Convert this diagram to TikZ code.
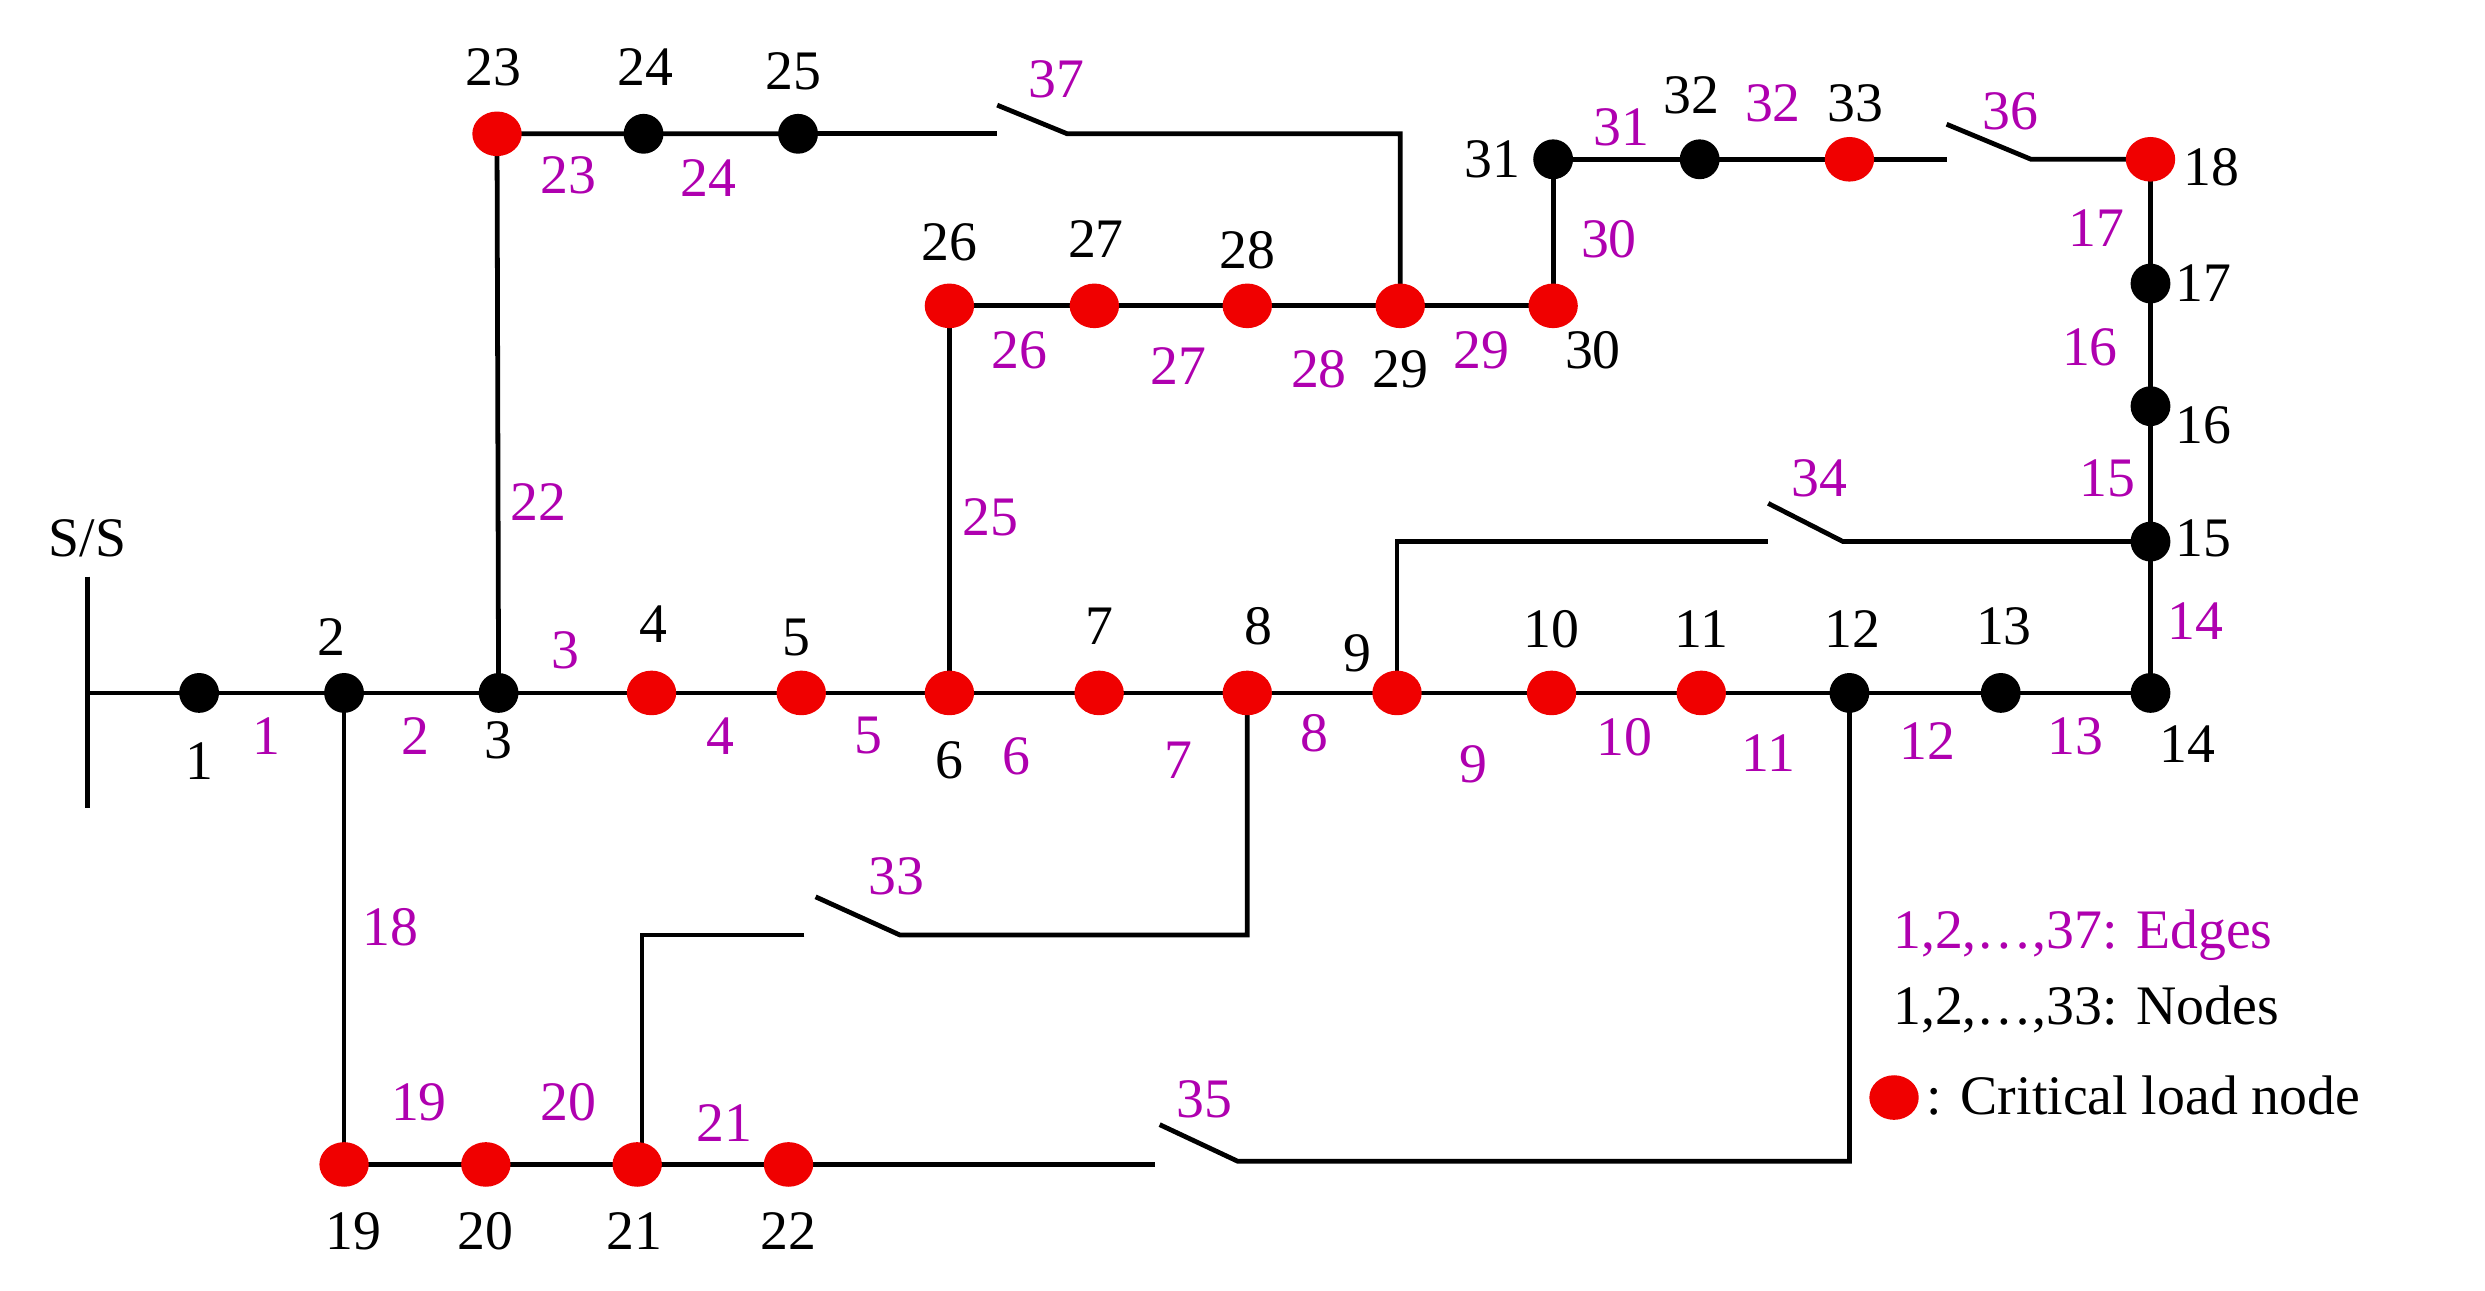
\documentclass[tikz,border=0pt]{standalone}
\usepackage{fontspec}
\setmainfont{Liberation Serif}
\usetikzlibrary{shapes.geometric}
\definecolor{mag}{RGB}{175,0,175}
\definecolor{cr}{RGB}{240,0,0}
\begin{document}
\begin{tikzpicture}[x=1pt,y=-1pt,line width=3pt,
 bn/.style={circle,fill=black,inner sep=0pt,minimum size=25pt},
 rn/.style={ellipse,fill=cr,inner sep=0pt,minimum width=31pt,minimum height=28pt},
 nl/.style={font=\fontsize{35}{40}\selectfont,text=black,inner sep=0pt},
 el/.style={font=\fontsize{35}{40}\selectfont,text=mag,inner sep=0pt}]
\useasboundingbox (0,0) rectangle (1560,810);
% nodes
\foreach \n/\x/\y in {1/125/435,2/216/435,3/313/435,4/409/435,5/503/435,6/596/435,7/690/435,8/783/435,9/877/435,10/974/435,11/1068/435,12/1161/435,13/1256/435,14/1350/435,15/1350/340,16/1350/255,17/1350/178,18/1350/100,19/216/731,20/305/731,21/400/731,22/495/731,23/312/84,24/404/84,25/501/84,26/596/192,27/687/192,28/783/192,29/879/192,30/975/192,31/975/100,32/1067/100,33/1161/100}
 {\coordinate (c\n) at (\x,\y);}
% bus
\coordinate (busT) at (55,362); \coordinate (busB) at (55,507); \coordinate (bus) at (55,435);
\draw (busT) -- (busB);
\draw (bus) -- (c1) -- (c2) -- (c3) -- (c4) -- (c5) -- (c6) -- (c7) -- (c8) -- (c9) -- (c10) -- (c11) -- (c12) -- (c13) -- (c14) -- (c15) -- (c16) -- (c17) -- (c18);
\draw (c2) -- (c19) -- (c20) -- (c21) -- (c22);
\draw (c3) -- (c23) -- (c24) -- (c25);
\draw (c6) -- (c26) -- (c27) -- (c28) -- (c29) -- (c30) -- (c31) -- (c32) -- (c33);
% switches
\coordinate (s37a) at (626,84); \coordinate (s37o) at (626,66); \coordinate (s37b) at (670,84); \coordinate (s37c) at (879,84);
\draw (c25) -- (s37a); \draw (s37o) -- (s37b) -- (s37c) -- (c29);
\coordinate (s36a) at (1222,100); \coordinate (s36o) at (1222,78); \coordinate (s36b) at (1275,100);
\draw (c33) -- (s36a); \draw (s36o) -- (s36b) -- (c18);
\coordinate (s34c) at (877,340); \coordinate (s34a) at (1110,340); \coordinate (s34o) at (1110,316); \coordinate (s34b) at (1157,340);
\draw (c9) -- (s34c) -- (s34a); \draw (s34o) -- (s34b) -- (c15);
\coordinate (s33c) at (783,587); \coordinate (s33b) at (565,587); \coordinate (s33o) at (512,563); \coordinate (s33a) at (505,587); \coordinate (s33d) at (403,587); \coordinate (s33e) at (403,731);
\draw (c8) -- (s33c) -- (s33b) -- (s33o); \draw (s33a) -- (s33d) -- (s33e);
\coordinate (s35a) at (725,731); \coordinate (s35o) at (728,706); \coordinate (s35b) at (777,729); \coordinate (s35c) at (1161,729);
\draw (c22) -- (s35a); \draw (s35o) -- (s35b) -- (s35c) -- (c12);
% dots
\foreach \n/\t in {1/b,2/b,3/b,4/r,5/r,6/r,7/r,8/r,9/r,10/r,11/r,12/b,13/b,14/b,15/b,16/b,17/b,18/r,19/r,20/r,21/r,22/r,23/r,24/b,25/b,26/r,27/r,28/r,29/r,30/r,31/b,32/b,33/r}
 {\node[\t n] (n\n) at (c\n) {};}
% node labels
\node[nl] (ss) at (55,338) {S/S};
\foreach \t/\x/\y in {1/125/478,2/208/400,3/313/465,4/410/392,5/500/400,6/596/477,7/690/393,8/790/393,9/852/410,10/974/395,11/1068/395,12/1163/395,13/1258/393,14/1373/467,15/1383/338,16/1383/267,17/1383/178,18/1388/105,19/222/773,20/305/773,21/398/773,22/495/773,23/310/42,24/405/42,25/498/45,26/596/152,27/688/150,28/783/157,29/879/232,30/1000/220,31/937/100,32/1062/60,33/1165/65}
 {\node[nl] (l\t) at (\x,\y) {\t};}
% edge labels
\foreach \t/\x/\y in {1/167/462,2/261/462,3/355/408,4/452/462,5/545/462,6/638/475,7/740/477,8/825/460,9/925/480,10/1020/463,11/1110/473,12/1210/465,13/1303/462,14/1378/390,15/1323/300,16/1312/218,17/1316/143,18/245/582,19/263/692,20/357/692,21/455/705,22/338/315,23/357/110,24/445/112,25/622/325,26/640/220,27/740/230,28/828/232,29/930/220,30/1010/150,31/1018/80,32/1113/65,33/563/550,34/1142/300,35/756/690,36/1262/70,37/663/50}
 {\node[el] (e\t) at (\x,\y) {\t};}
% legend
\node[el,anchor=west] (lg1) at (1187,587) {1,2,\dots,37: Edges};
\node[nl,anchor=west] (lg2) at (1187,634) {1,2,\dots,33: Nodes};
\node[rn] (lgd) at (1189,689) {};
\node[nl,anchor=west] (lg3) at (1208,688) {: Critical load node};
\end{tikzpicture}
\end{document}
